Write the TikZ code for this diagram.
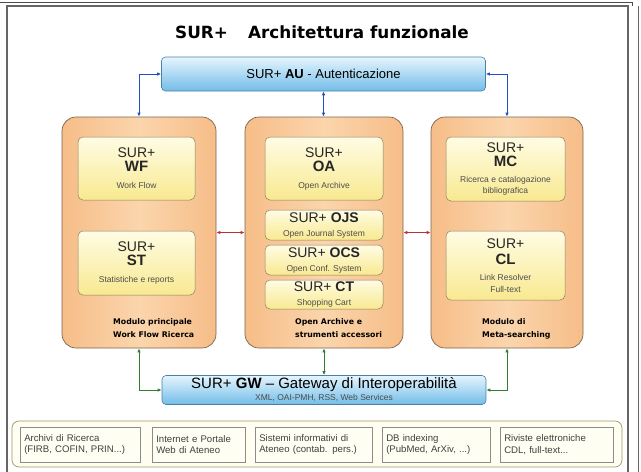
\documentclass[tikz,border=0pt]{standalone}
\usepackage{fontspec}
\setmainfont{Liberation Sans}
\newfontfamily\verd{DejaVu Sans}
\usepackage{xcolor}
\usepackage{tikz}
\usetikzlibrary{arrows.meta,positioning}

\definecolor{barline}{HTML}{4A7FA8}
\definecolor{bartop}{HTML}{E6F5FD}
\definecolor{barbot}{HTML}{72BDE8}
\definecolor{modline}{HTML}{7A6450}
\definecolor{modedge}{HTML}{F6BD88}
\definecolor{modmid}{HTML}{FBD5AC}
\definecolor{unitline}{HTML}{8A8060}
\definecolor{unittop}{HTML}{FFFCE4}
\definecolor{unitbot}{HTML}{F8E990}
\definecolor{srcline}{HTML}{8C8C8C}
\definecolor{linkblue}{HTML}{2050C0}
\definecolor{linkred}{HTML}{C0302E}
\definecolor{linkgreen}{HTML}{2F7D2F}

\newcommand{\subtext}[1]{{\color{black!70}\fontsize{8.5}{10}\selectfont #1}}
\newcommand{\unitcode}[1]{{\fontsize{15}{15}\selectfont\textbf{#1}}}

\begin{document}
\begin{tikzpicture}[
      x=1pt, y=-1pt,
      bar/.style={draw=barline, rounded corners=4pt, top color=bartop, bottom color=barbot,
          line width=0.6pt, minimum width=324pt, align=center, inner sep=0pt},
      module/.style={draw=modline, rounded corners=14pt, left color=modedge, right color=modedge,
          middle color=modmid, line width=0.7pt, minimum height=231pt},
      unit/.style={draw=unitline, rounded corners=5pt, top color=unittop, bottom color=unitbot,
          line width=0.5pt, align=center, inner sep=0pt, text=black!85,
          font=\fontsize{14}{15}\selectfont},
      modlabel/.style={anchor=north west, align=left, inner sep=0pt,
          font=\verd\bfseries\fontsize{7.8}{13}\selectfont},
      source/.style={draw=srcline, fill=white!95!yellow, line width=0.5pt, minimum height=35pt,
          align=left, anchor=west, inner sep=4pt, text=black!75,
          font=\fontsize{9.6}{11.5}\selectfont},
      link/.style={{Latex[length=4pt,width=3.5pt]}-{Latex[length=4pt,width=3.5pt]}, line width=0.9pt}
    ]
    \useasboundingbox (0,0) rectangle (641,472);
    % frame
    \draw[black!60, line width=1.2pt] (7,6) rectangle (628,475);
    \draw[black!70, line width=0.8pt] (0,2) -- (632,2) -- (632,6);
    \draw[black!60, line width=0.8pt] (638,6) -- (638,472);

    \node[font=\verd\bfseries\fontsize{16.8}{18}\selectfont] (title) at (322,32)
        {SUR+\hspace{1.2em}Architettura funzionale};

    % authentication bar
    \node[bar, minimum height=34pt, font=\fontsize{13}{15}\selectfont] (au) at (323.5,74)
        {SUR+ \textbf{AU} - Autenticazione};

    % three modules
    \node[module, minimum width=154pt] (left) at (139,232.5) {};
    \node[module, minimum width=158pt] (mid) at (324,232.5) {};
    \node[module, minimum width=152pt] (right) at (507,232.5) {};

    \node[unit, minimum width=117pt, minimum height=63pt] (wf) at (136.5,168.5)
        {SUR+\\[-1pt]\unitcode{WF}\\[2pt]\subtext{Work Flow}};
    \node[unit, minimum width=117pt, minimum height=64pt] (st) at (136.5,263)
        {SUR+\\[-1pt]\unitcode{ST}\\[2pt]\subtext{Statistiche e reports}};

    \node[unit, minimum width=118pt, minimum height=63pt] (oa) at (324,168.5)
        {SUR+\\[-1pt]\unitcode{OA}\\[2pt]\subtext{Open Archive}};
    \node[unit, minimum width=118pt, minimum height=30pt] (ojs) at (324,225)
        {SUR+ \textbf{OJS}\\[-1pt]\subtext{Open Journal System}};
    \node[unit, minimum width=118pt, minimum height=30pt] (ocs) at (324,260)
        {SUR+ \textbf{OCS}\\[-1pt]\subtext{Open Conf. System}};
    \node[unit, minimum width=118pt, minimum height=29pt] (ct) at (324,294.5)
        {SUR+ \textbf{CT}\\[-1pt]\subtext{Shopping Cart}};

    \node[unit, minimum width=119pt, minimum height=64pt] (mc) at (505.5,169)
        {SUR+\\[-1pt]\unitcode{MC}\\[1pt]\subtext{Ricerca e catalogazione}\\[-4pt]\subtext{bibliografica}};
    \node[unit, minimum width=119pt, minimum height=69pt] (cl) at (505.5,265.5)
        {SUR+\\[1pt]\unitcode{CL}\\[1pt]\subtext{Link Resolver}\\[-3pt]\subtext{Full-text}};

    \node[modlabel] (leftlbl) at (113,318) {Modulo principale\\Work Flow Ricerca};
    \node[modlabel] (midlbl) at (295,318) {Open Archive e\\strumenti accessori};
    \node[modlabel] (rightlbl) at (482,318) {Modulo di\\Meta-searching};

    % gateway bar
    \node[bar, minimum height=29pt, font=\fontsize{15}{14}\selectfont] (gw) at (324,390)
        {SUR+ \textbf{GW} -- Gateway di Interoperabilità\\[-2pt]\subtext{XML, OAI-PMH, RSS, Web Services}};

    % external sources
    \node[draw=black!40!yellow!60!gray, fill=yellow!6, rounded corners=7pt, line width=0.7pt,
          minimum width=610pt, minimum height=46pt] (ext) at (317,444) {};
    \node[source, text width=112pt] (src1) at (20,444.5) {Archivi di Ricerca\\(FIRB, COFIN, PRIN...)};
    \node[source, text width=85pt] (src2) at (152,444.5) {Internet e Portale\\Web di Ateneo};
    \node[source, text width=109pt] (src3) at (255,444.5) {Sistemi informativi di\\Ateneo (contab. pers.)};
    \node[source, text width=100pt] (src4) at (382,444.5) {DB indexing\\(PubMed, ArXiv, ...)};
    \node[source, text width=105pt] (src5) at (500,444.5) {Riviste elettroniche\\CDL, full-text...};

    % connectors
    \draw[link, linkblue] (au.west) -| (left.north);
    \draw[link, linkblue] (au.east) -| (right.north);
    \draw[link, linkblue] (au.south) -- (au.south |- mid.north);
    \draw[link, linkred] (left.east) -- (mid.west);
    \draw[link, linkred] (mid.east) -- (right.west);
    \draw[link, linkgreen] (left.south) |- (gw.west);
    \draw[link, linkgreen] (right.south) |- (gw.east);
    \draw[link, linkgreen] (mid.south) -- (mid.south |- gw.north);
  \end{tikzpicture}
\end{document}
